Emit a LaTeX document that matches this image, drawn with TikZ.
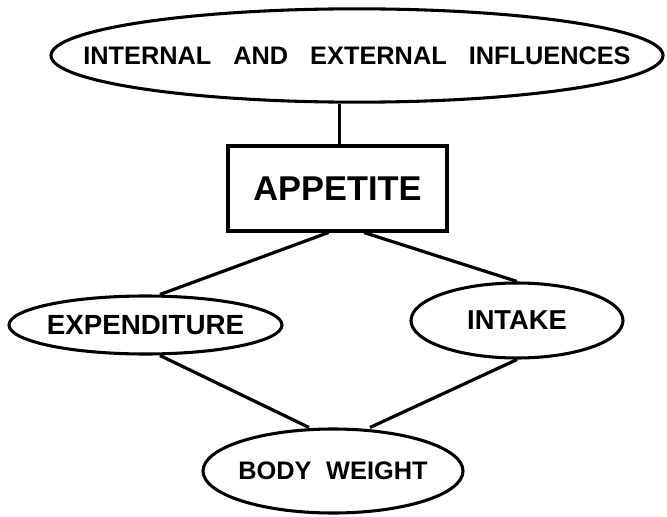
\documentclass[tikz,border=0pt]{standalone}
\usepackage{mathtools}
\usepackage{fontspec}
\setmainfont{Liberation Sans}
\usetikzlibrary{shapes}

\begin{document}
\begin{tikzpicture}[x=0.75pt, y=-0.75pt,
					oval/.style={draw, ellipse, inner sep=0pt, line width=2.3pt},
					lbl/.style={font=\bfseries\fontsize{#1}{#1}\selectfont},
					conn/.style={line width=2.4pt}]
					%Bildbereich
					\useasboundingbox (0,0) rectangle (667,517);
					% Knoten
					\node[oval, minimum width=459pt, minimum height=70pt, lbl=19pt] (infl) at (357,55.5) {\clap{INTERNAL\hspace{16.5pt}AND\hspace{16.5pt}EXTERNAL\hspace{16.5pt}INFLUENCES}};
					\node[draw, rectangle, line width=2.3pt, inner sep=0pt, minimum width=164.25pt, minimum height=63.75pt, lbl=25.8pt] (app) at (337.5,188.5) {APPETITE};
					\node[oval, minimum width=204.75pt, minimum height=43.5pt, lbl=20.8pt] (expend) at (145.5,325) {\clap{EXPENDITURE}};
					\node[oval, minimum width=159pt, minimum height=56.25pt, lbl=20.5pt] (intake) at (517,320.5) {\clap{INTAKE}};
					\node[oval, minimum width=195pt, minimum height=63pt, lbl=19pt] (body) at (333,471) {\clap{BODY\hspace{11pt}WEIGHT}};
					% Verbindungen
					\draw[conn] ([xshift=1.5pt]app.north) -- ([xshift=1.5pt]app.north |- infl.south);
					\draw[conn] ([xshift=-6.75pt]app.south) -- ([xshift=10.9pt]expend.north);
					\draw[conn] ([xshift=19.9pt]app.south) -- (intake.north);
					\draw[conn] ([xshift=10.9pt]expend.south) -- ([xshift=-18pt]body.north);
					\draw[conn] (intake.south) -- ([xshift=27.75pt]body.north);
				\end{tikzpicture}
\end{document}
